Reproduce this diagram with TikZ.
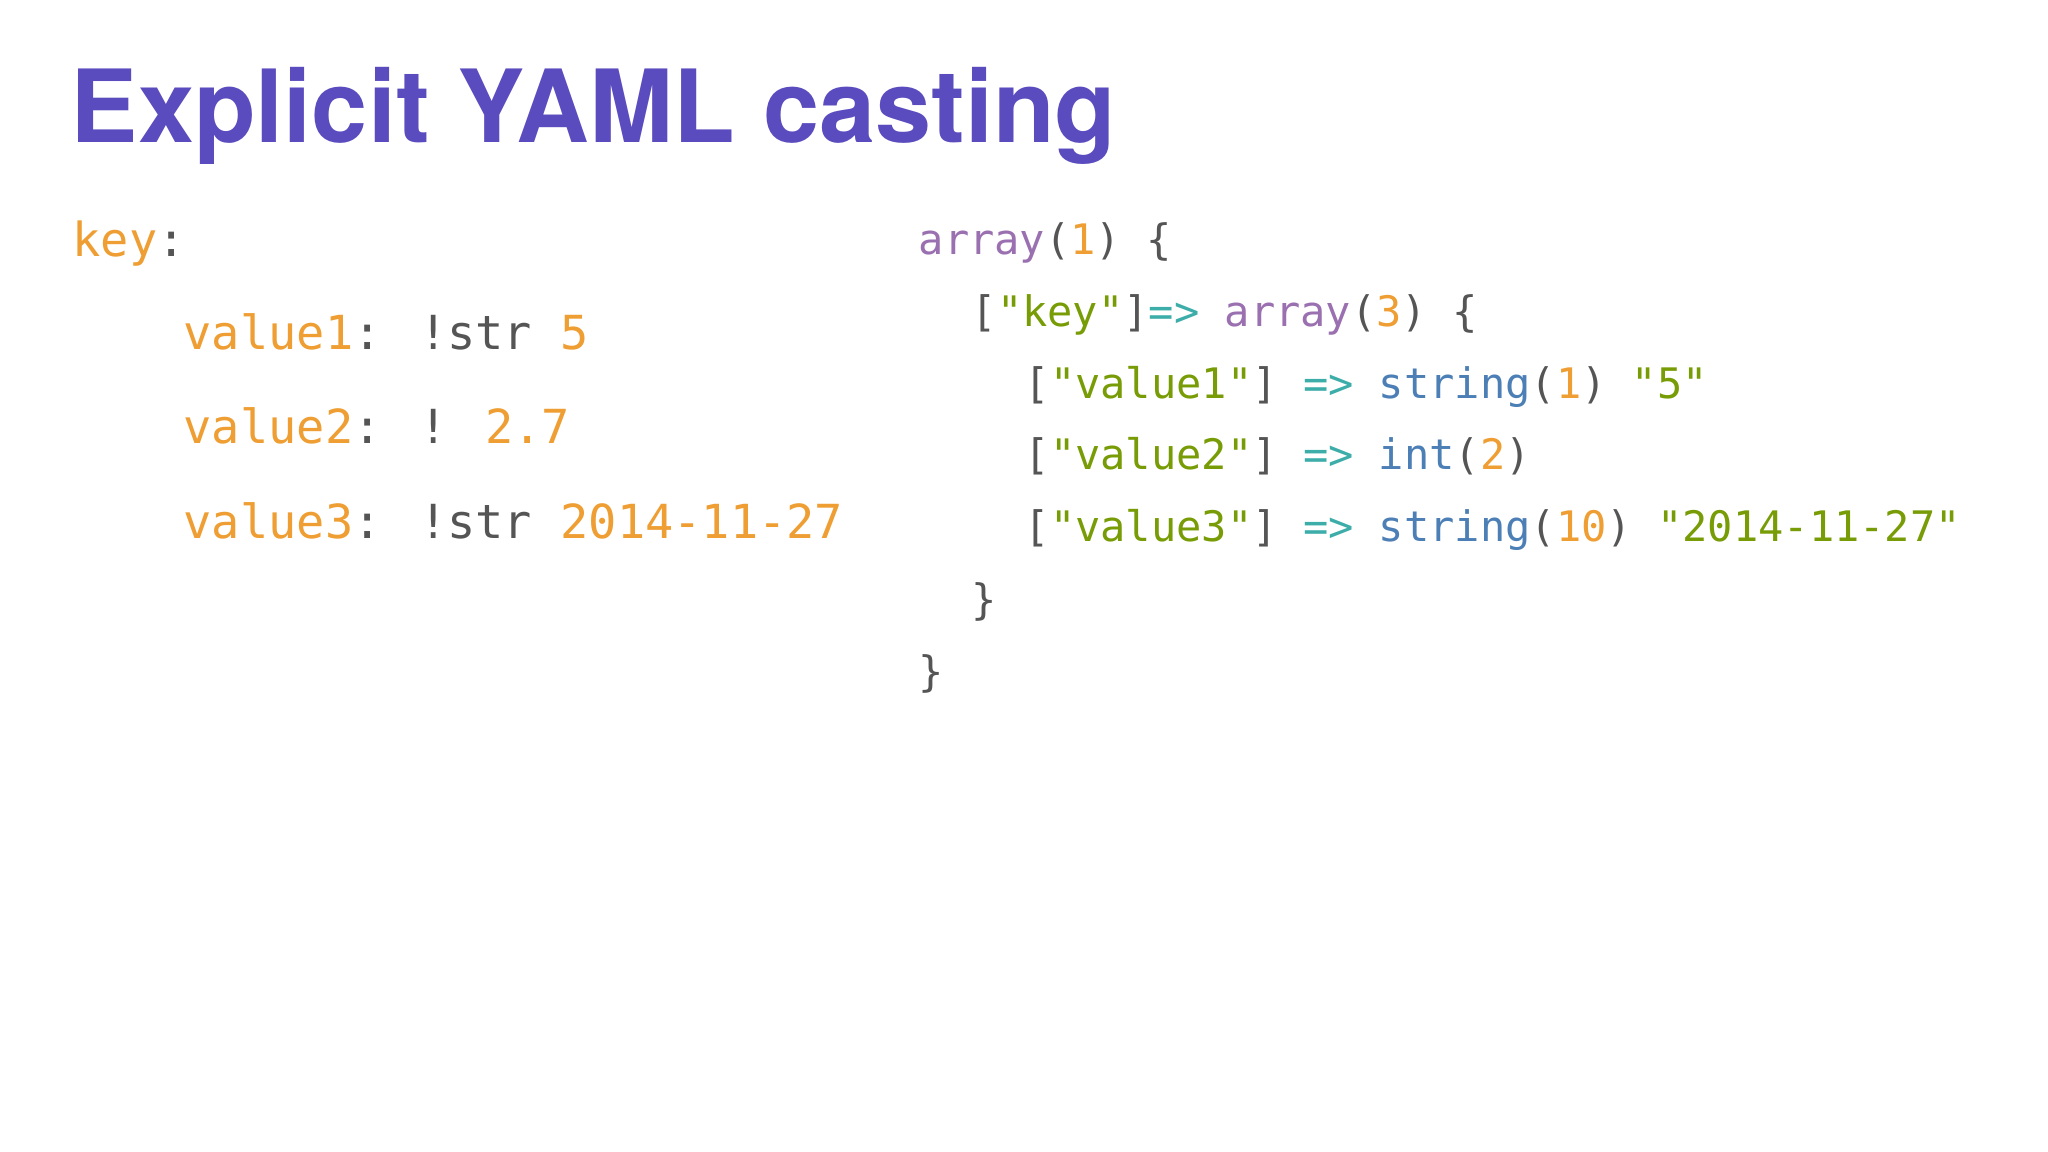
\documentclass[tikz,border=0pt]{standalone}
\usepackage{fontspec}
\setmainfont{TeX Gyre Heros}
\newfontfamily\codefont{DejaVu Sans Mono}
\definecolor{ttl}{HTML}{5A4BBE}
\definecolor{cor}{HTML}{EE9E32}
\definecolor{cgr}{HTML}{555555}
\definecolor{cpu}{HTML}{9A70B0}
\definecolor{cte}{HTML}{3DADAA}
\definecolor{cbl}{HTML}{4C7FB5}
\definecolor{cgn}{HTML}{789C06}
\begin{document}
\begin{tikzpicture}[x=0.01cm,y=0.01cm,
  lc/.style={anchor=base west,inner sep=0,font=\codefont\fontsize{13.35pt}{16pt}\selectfont},
  rc/.style={anchor=base west,inner sep=0,font=\codefont\fontsize{11.95pt}{14pt}\selectfont}]
\fill[white] (0,0) rectangle (2048,-1152);
\useasboundingbox (0,0) rectangle (2048,-1152);
\node[anchor=base west,inner sep=0,text=ttl,font=\bfseries\fontsize{28.7pt}{32pt}\selectfont] (title) at (70,-143) {Explicit YAML casting};
\node[lc] (l0) at (72,-257) {\textcolor{cor}{key}\textcolor{cgr}{:}};
\node[lc] (l1) at (183,-350) {\textcolor{cor}{value1}\textcolor{cgr}{: !str} \textcolor{cor}{5}};
\node[lc] (l2) at (183,-444) {\textcolor{cor}{value2}\textcolor{cgr}{: !} \textcolor{cor}{2.7}};
\node[lc] (l3) at (183,-538) {\textcolor{cor}{value3}\textcolor{cgr}{: !str} \textcolor{cor}{2014-11-27}};
\node[rc] (r0) at (918,-255) {\textcolor{cpu}{array}\textcolor{cgr}{(}\textcolor{cor}{1}\textcolor{cgr}{) \{}};
\node[rc] (r1) at (971,-327) {\textcolor{cgr}{[}\textcolor{cgn}{"key"}\textcolor{cgr}{]}\textcolor{cte}{=>} \textcolor{cpu}{array}\textcolor{cgr}{(}\textcolor{cor}{3}\textcolor{cgr}{) \{}};
\node[rc] (r2) at (1024,-399) {\textcolor{cgr}{[}\textcolor{cgn}{"value1"}\textcolor{cgr}{]} \textcolor{cte}{=>} \textcolor{cbl}{string}\textcolor{cgr}{(}\textcolor{cor}{1}\textcolor{cgr}{)} \textcolor{cgn}{"5"}};
\node[rc] (r3) at (1024,-470) {\textcolor{cgr}{[}\textcolor{cgn}{"value2"}\textcolor{cgr}{]} \textcolor{cte}{=>} \textcolor{cbl}{int}\textcolor{cgr}{(}\textcolor{cor}{2}\textcolor{cgr}{)}};
\node[rc] (r4) at (1024,-542) {\textcolor{cgr}{[}\textcolor{cgn}{"value3"}\textcolor{cgr}{]} \textcolor{cte}{=>} \textcolor{cbl}{string}\textcolor{cgr}{(}\textcolor{cor}{10}\textcolor{cgr}{)} \textcolor{cgn}{"2014-11-27"}};
\node[rc] (r5) at (971,-614) {\textcolor{cgr}{\}}};
\node[rc] (r6) at (918,-686) {\textcolor{cgr}{\}}};
\end{tikzpicture}
\end{document}
